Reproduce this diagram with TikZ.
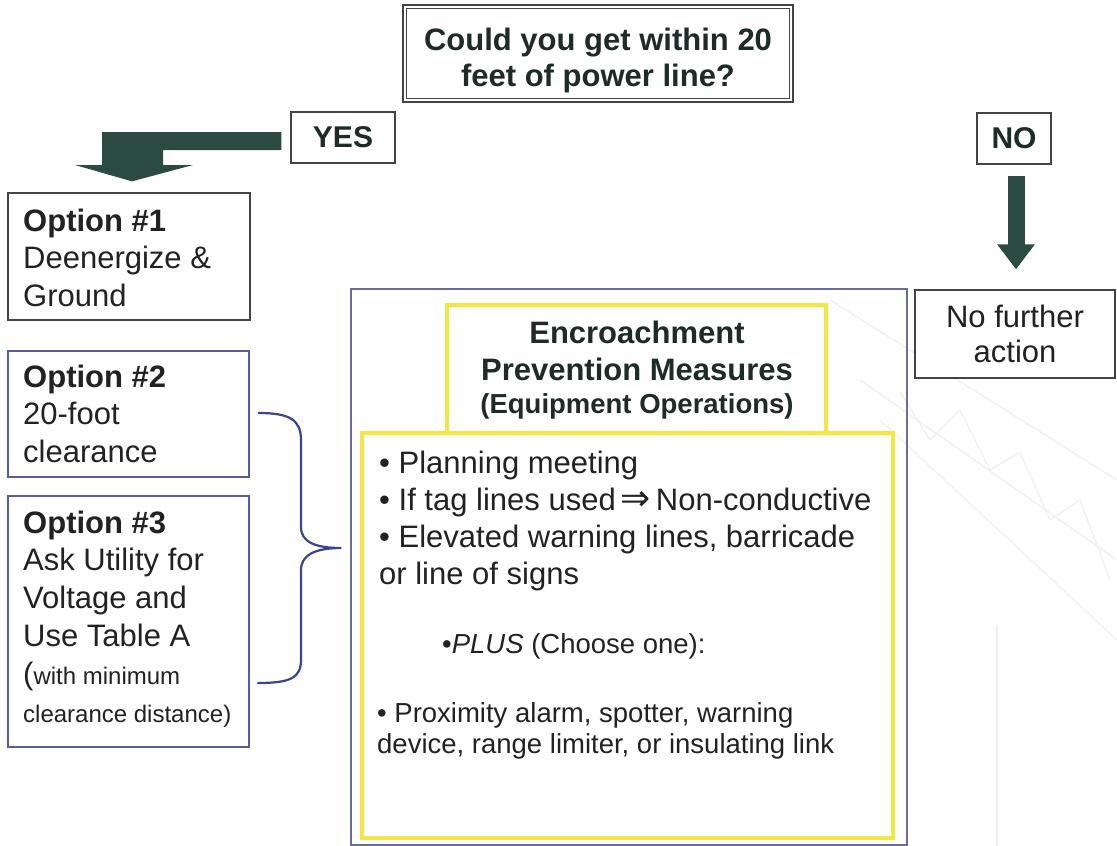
\documentclass[tikz,border=0pt]{standalone}
\usepackage{fontspec}
\setmainfont{Liberation Sans}
\newfontfamily\dejavu{DejaVu Sans}
\usetikzlibrary{calc,arrows.meta}
\definecolor{txt}{HTML}{222222}
\definecolor{boldtxt}{HTML}{1F2B28}
\definecolor{arrowgreen}{HTML}{2B4A42}
\definecolor{optblue}{HTML}{5A5A9E}
\definecolor{bracec}{HTML}{3A4590}
\definecolor{ybox}{HTML}{F2E640}
\definecolor{grayline}{HTML}{444444}
\definecolor{encline}{HTML}{6C6C98}
\definecolor{wm}{HTML}{F4ECF1}
\begin{document}
\begin{tikzpicture}[x=1pt,y=-1pt,
  box/.style={draw=#1, line width=1.3pt, fill=white, rectangle, inner sep=0pt},
  box/.default=grayline,
  ybx/.style={draw=ybox, line width=3.5pt, fill=white, rectangle, inner sep=0pt},
  para/.style={inner sep=0pt, anchor=base west, text width=#1, align=flush left, text=txt},
  para/.default=236pt,
  f31/.style={font=\fontsize{31}{37.8}\selectfont},
  bigarrow/.style={fill=arrowgreen, draw=none},
  wmline/.style={draw=wm, line width=1.2pt}
]
\fill[white] (0,0) rectangle (1117,846);
\useasboundingbox (0,0) rectangle (1117,846);

% faint watermark (crane boom)
\draw[wmline] (830,300) -- (1117,480);
\draw[wmline] (860,380) -- (1117,560);
\draw[wmline] (880,420) -- (1117,640);
\draw[wmline] (900,392) -- (930,440) -- (960,410) -- (990,470) -- (1020,452) -- (1050,520) -- (1080,500) -- (1110,580);
\draw[wmline] (997,625) -- (997,846);

% question box (double border)
\node[draw=grayline, line width=2pt, fill=white, minimum width=390pt, minimum height=97pt, inner sep=0pt] (q) at (598,53.5) {};
\draw[grayline, line width=0.9pt] ($(q.north west)+(4.5,4.5)$) rectangle ($(q.south east)+(-4.5,-4.5)$);
\node[inner sep=0pt, anchor=base, text width=385pt, align=flush center, text=boldtxt,
      font=\bfseries\fontsize{31}{36}\selectfont] (qt) at (598,50) {Could you get within 20\\feet of power line?};

% YES / NO
\node[box, minimum width=104pt, minimum height=51pt, text=boldtxt, font=\bfseries\fontsize{30}{36}\selectfont] (yes) at (343,137.5) {YES};
\node[box, minimum width=74pt, minimum height=51pt, text=boldtxt, font=\bfseries\fontsize{30}{36}\selectfont] (no) at (1014,138.5) {NO};

% option boxes
\node[box, minimum width=242pt, minimum height=127pt] (opt1) at (129,256.5) {};
\node[box=optblue, minimum width=241pt, minimum height=126pt] (opt2) at (128.5,414) {};
\node[box=optblue, minimum width=241pt, minimum height=251pt] (opt3) at (128.5,621.5) {};

\node[para, f31] (opt1t) at (23,231) {\textbf{Option \#1}\\Deenergize \&\\Ground};
\node[para, f31] (opt2t) at (23,387) {\textbf{Option \#2}\\20-foot\\clearance};
\node[para, f31] (opt3t) at (23,533) {\textbf{Option \#3}\\Ask Utility for\\Voltage and\\Use Table A\\({\fontsize{24}{37.8}\selectfont with minimum}\\{\fontsize{24}{37.8}\selectfont clearance distance)}};

% YES arrow (bent block arrow)
\fill[bigarrow] ($(yes.west)+(-9,-5.5)$) -- (102,132) -- (102,165) -- (75,165) -- ($(opt1.north)+(3,-11)$) -- (193,165) -- (163,165) -- (163,150) -- ($(yes.west)+(-9,12.5)$) -- cycle;

% no further action
\node[box, minimum width=200pt, minimum height=88pt, align=flush center, text=txt, font=\fontsize{31}{35}\selectfont] (noact) at (1015,334) {No further\\action};
\draw[arrowgreen, line width=17pt, -{Triangle[width=36pt,length=25pt]}] ($(no.south)+(2,11)$) -- ($(noact.north)+(1,-20)$);

% encroachment group
\node[draw=encline, line width=1.3pt, rectangle, inner sep=0pt, minimum width=556pt, minimum height=556pt] (enc) at (629,567) {};
\node[ybx, minimum width=531pt, minimum height=405pt] (encc) at (627.5,635.5) {};
\node[ybx, minimum width=379pt, minimum height=128pt] (enct) at (636.5,369) {};
\node[inner sep=0pt, anchor=base, text width=370pt, align=flush center, text=boldtxt,
      font=\bfseries\fontsize{31}{37}\selectfont] (enctt) at (637,343)
      {Encroachment\\Prevention Measures\\[-4pt]{\fontsize{27.5}{37}\selectfont(Equipment Operations)}};

\node[para=520pt, font=\fontsize{31}{37.3}\selectfont] (encl1) at (379,473)
  {• Planning meeting\\• If tag lines used\kern5pt{\dejavu\fontsize{36}{37.3}\selectfont ⇒}\kern5pt Non-conductive\\• Elevated warning lines, barricade\\or line of signs};
\node[para=400pt, font=\fontsize{27.5}{32}\selectfont] (encl2) at (442,653) {•\textit{PLUS} (Choose one):};
\node[para=510pt, font=\fontsize{27.5}{31.5}\selectfont] (encl3) at (377,722)
  {• Proximity alarm, spotter, warning\\device, range limiter, or insulating link};

% brace
\draw[bracec, line width=2.2pt, line cap=round] ($(opt2.east)+(9,-1)$)
  .. controls (290,413) and (301,420) .. (301,440) -- (301,527)
  .. controls (301,542) and (315,548) .. ($(enc.west)+(-9,-19)$)
  .. controls (315,548) and (301,555) .. (301,570) -- (301,660)
  .. controls (301,678) and (290,683) .. (258,683);
\end{tikzpicture}
\end{document}
